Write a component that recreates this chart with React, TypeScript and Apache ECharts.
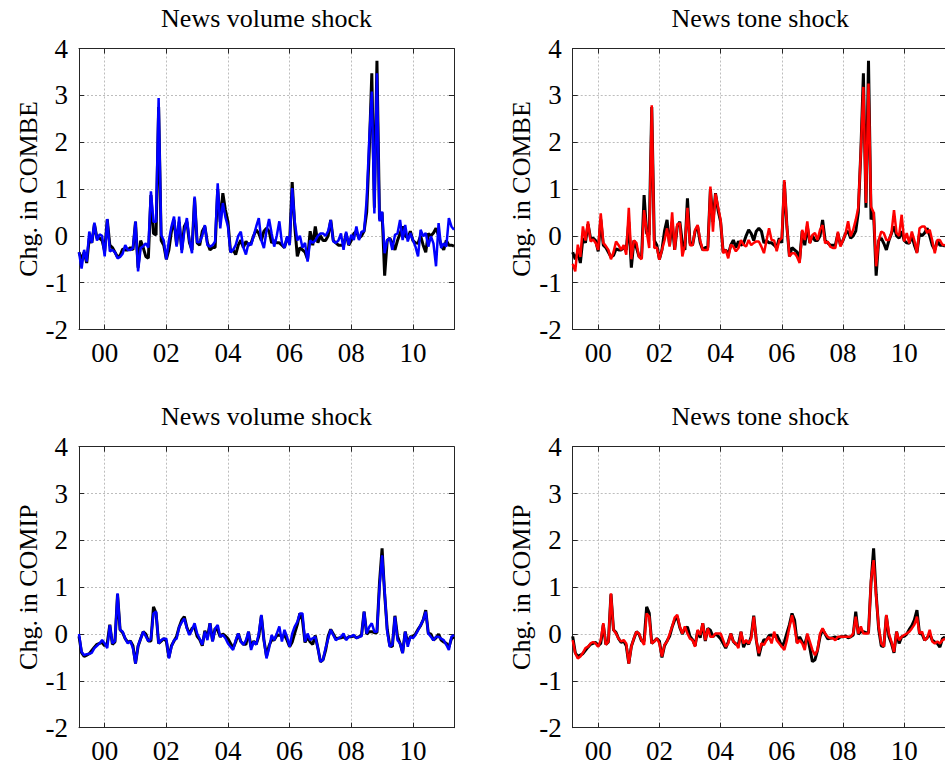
import React, { useEffect, useRef } from "react";
import * as echarts from "echarts";

// Monthly observations, Mar 1999 .. May 2011 (147 months)
const START_YEAR = 1999;
const START_MONTH = 2; // March (0-based)
const N_MONTHS = 147;
const dates: number[] = [];
for (let i = 0; i < N_MONTHS; i++) dates.push(START_YEAR + (START_MONTH + i) / 12);

const yearTicks = [2000, 2002, 2004, 2006, 2008, 2010];
const yTicks = [-2, -1, 0, 1, 2, 3, 4];

const titles = ["News volume shock", "News tone shock", "News volume shock", "News tone shock"];
const yNames = ["Chg. in COMBE", "Chg. in COMBE", "Chg. in COMIP", "Chg. in COMIP"];

// Change in COMBE: total response (black)
const combeTotal = [
  -0.35, -0.5, -0.35, -0.58, -0.05, -0.15, 0.25, -0.05, -0.05, -0.1,
  -0.33, 0.35, -0.2, -0.25, -0.35, -0.45, -0.42, -0.28, -0.3, -0.3,
  -0.25, -0.3, 0.3, -0.68, -0.1, -0.25, -0.44, -0.48, 0.87, 0.05,
  0.02, 2.75, -0.1, -0.2, -0.5, -0.3, 0.1, 0.34, -0.2, 0.3,
  -0.3, 0.2, 0.3, -0.15, -0.3, 0.8, -0.15, -0.2, 0.1, 0.2,
  -0.15, -0.3, -0.25, -0.25, 1.0, 0.3, 0.91, 0.55, 0.3, -0.35,
  -0.3, -0.4, -0.2, -0.09, -0.25, -0.12, -0.2, -0.16, 0.0, 0.13,
  0.05, -0.1, 0.1, 0.16, 0.1, -0.15, -0.1, -0.15, -0.15, -0.2,
  -0.25, -0.05, -0.15, 1.15, 0.2, -0.44, -0.25, -0.3, -0.35, -0.5,
  0.1, -0.2, 0.2, -0.15, 0.0, -0.1, -0.1, 0.0, 0.34, -0.1,
  -0.15, -0.2, -0.2, -0.2, 0.05, -0.2, -0.1, 0.05, 0.1, -0.05,
  0.0, 0.1, 0.5, 1.8, 3.47, 0.6, 3.74, 0.35, 0.5, -0.85,
  -0.1, -0.05, -0.16, -0.3, -0.1, 0.05, 0.2, 0.0, -0.05, 0.1,
  -0.1, -0.15, -0.16, 0.0, -0.2, -0.35, 0.05, 0.0, 0.06, 0.16,
  0.0, -0.2, -0.3, -0.1, -0.2, -0.2, -0.22,
];

// Change in COMBE: news volume shock (blue)
const combeVolume = [
  -0.35, -0.7, -0.3, -0.55, 0.09, -0.15, 0.28, -0.1, 0.03, 0.0,
  -0.44, 0.36, -0.33, -0.3, -0.35, -0.48, -0.45, -0.38, -0.2, -0.3,
  -0.3, -0.26, 0.31, -0.76, -0.26, -0.22, -0.16, -0.25, 0.95, 0.3,
  0.3, 2.94, 0.02, -0.1, -0.5, -0.1, 0.2, 0.41, -0.23, 0.41,
  -0.37, 0.1, 0.38, -0.1, -0.37, 0.84, -0.14, -0.13, 0.0, 0.23,
  -0.2, -0.23, -0.2, -0.12, 1.12, 0.16, 0.7, 0.4, 0.2, -0.35,
  -0.3, -0.2, 0.0, 0.09, -0.25, -0.4, -0.15, -0.2, 0.0, 0.2,
  0.38, -0.1, -0.26, 0.1, 0.36, 0.05, -0.23, 0.0, 0.31, -0.15,
  -0.26, -0.01, -0.2, 1.02, 0.3, -0.1, 0.0, -0.25, -0.15, -0.55,
  -0.1, -0.15, -0.1, 0.0, 0.05, 0.05, 0.0, 0.1, 0.34, -0.12,
  -0.15, -0.1, 0.05, -0.3, 0.09, -0.19, 0.02, -0.09, 0.2, -0.09,
  0.09, 0.1, 0.77, 2.05, 3.08, 0.48, 3.47, 0.31, 0.52, -0.37,
  -0.09, -0.05, -0.3, 0.02, 0.05, 0.34, -0.09, 0.23, -0.12, 0.06,
  -0.09, -0.23, -0.44, 0.13, -0.01, 0.06, -0.23, -0.01, -0.16, -0.65,
  0.27, -0.26, -0.16, -0.23, 0.38, 0.2, 0.13,
];

// Change in COMBE: news tone shock (red)
const combeTone = [
  -0.6, -0.76, -0.19, -0.45, 0.2, -0.1, 0.31, -0.12, -0.08, -0.15,
  -0.3, 0.48, -0.15, -0.22, -0.3, -0.5, -0.35, -0.12, -0.2, -0.3,
  -0.2, -0.4, 0.6, -0.5, -0.1, -0.15, -0.45, -0.5, 0.55, 0.1,
  -0.26, 2.79, -0.26, -0.25, -0.51, -0.3, -0.1, 0.16, -0.23, 0.5,
  -0.3, 0.25, 0.27, -0.44, -0.2, 0.6, -0.2, -0.2, 0.13, 0.23,
  -0.1, -0.3, -0.3, -0.3, 1.05, 0.09, 0.9, 0.62, 0.34, -0.37,
  -0.3, -0.48, -0.19, -0.23, -0.33, -0.26, -0.09, -0.19, -0.23, -0.09,
  -0.2, -0.15, -0.12, -0.12, -0.23, -0.37, -0.1, 0.16, -0.09, -0.1,
  -0.33, -0.1, -0.05, 1.19, 0.2, -0.44, -0.37, -0.37, -0.45, -0.58,
  0.13, -0.09, 0.31, -0.16, 0.02, 0.06, -0.09, 0.13, 0.23, -0.16,
  -0.12, -0.23, -0.26, -0.26, 0.09, -0.23, -0.09, 0.05, 0.31, -0.01,
  0.13, 0.34, 0.6, 1.8, 3.18, 0.7, 3.25, 0.62, 0.5, -0.65,
  -0.09, 0.09, 0.06, -0.09, -0.09, 0.06, 0.55, 0.06, 0.0, 0.45,
  -0.12, 0.06, -0.16, 0.09, -0.1, -0.37, 0.16, 0.2, 0.2, 0.06,
  0.13, -0.1, -0.37, -0.09, -0.09, -0.19, -0.2,
];

// Change in COMIP: total response (black)
const comipTotal = [
  -0.05, -0.4, -0.48, -0.45, -0.42, -0.35, -0.28, -0.22, -0.2, -0.18,
  -0.25, -0.2, 0.2, -0.22, -0.17, 0.85, 0.09, 0.03, -0.1, -0.18,
  -0.15, -0.25, -0.63, -0.26, -0.1, 0.05, 0.0, -0.15, -0.15, 0.58,
  0.45, -0.2, -0.15, -0.1, -0.15, -0.5, -0.25, -0.15, -0.05, 0.15,
  0.3, 0.37, 0.14, 0.0, 0.12, 0.15, -0.05, -0.12, -0.25, 0.07,
  -0.08, 0.23, -0.15, 0.12, 0.08, -0.06, 0.0, -0.04, -0.1, -0.2,
  -0.3, -0.17, 0.01, -0.16, -0.22, -0.22, 0.05, -0.28, -0.15, -0.22,
  -0.05, 0.39, -0.13, -0.47, -0.25, -0.12, -0.13, -0.03, -0.02, -0.05,
  -0.02, -0.13, -0.27, -0.17, 0.02, 0.2, 0.44, 0.3, -0.18, -0.06,
  -0.17, -0.22, -0.03, -0.3, -0.59, -0.55, -0.35, -0.05, 0.1, 0.0,
  -0.1, -0.09, -0.08, -0.06, -0.1, -0.06, -0.06, -0.04, -0.08, -0.06,
  -0.02, 0.48, 0.0, 0.05, 0.05, 0.03, 0.03, 1.1, 1.83, 0.85,
  0.1, -0.25, -0.27, 0.39, -0.05, -0.2, -0.4, 0.05, -0.2, -0.06,
  -0.05, 0.0, 0.1, 0.18, 0.3, 0.51, 0.01, 0.0, -0.13, -0.08,
  0.0, -0.13, -0.17, -0.2, -0.28, -0.1, -0.06,
];

// Change in COMIP: news volume shock (blue)
const comipVolume = [
  0.0, -0.38, -0.45, -0.43, -0.42, -0.4, -0.3, -0.25, -0.2, -0.13,
  -0.2, -0.3, 0.19, -0.2, -0.15, 0.87, 0.09, 0.05, -0.1, -0.2,
  -0.15, -0.3, -0.63, -0.25, -0.1, 0.05, -0.05, -0.15, -0.1, 0.44,
  0.48, -0.2, -0.13, -0.1, -0.1, -0.52, -0.27, -0.13, -0.1, 0.15,
  0.25, 0.33, 0.12, -0.02, 0.09, 0.23, 0.01, -0.1, -0.23, 0.05,
  -0.13, 0.23, -0.16, 0.12, 0.19, -0.06, -0.02, -0.09, -0.2, -0.27,
  -0.34, -0.13, 0.01, -0.16, -0.23, -0.13, 0.05, -0.34, -0.16, -0.23,
  0.01, 0.41, -0.13, -0.52, -0.3, -0.02, -0.13, 0.01, 0.16, -0.16,
  0.09, -0.06, -0.27, 0.01, 0.16, 0.26, 0.44, 0.44, -0.16, 0.01,
  -0.13, -0.09, -0.06, -0.3, -0.59, -0.55, -0.3, -0.1, 0.09, -0.02,
  -0.13, -0.09, -0.06, 0.01, -0.13, -0.06, -0.05, -0.02, -0.09, -0.06,
  -0.05, 0.48, 0.01, 0.15, 0.23, 0.05, 0.05, 1.0, 1.68, 0.9,
  0.05, -0.27, -0.23, 0.37, -0.13, -0.2, -0.41, 0.05, -0.27, -0.06,
  -0.09, -0.02, 0.08, 0.19, 0.3, 0.48, 0.01, -0.06, -0.13, -0.06,
  -0.06, -0.1, -0.13, -0.23, -0.34, -0.06, -0.02,
];

// Change in COMIP: news tone shock (red)
const comipTone = [
  -0.13, -0.41, -0.52, -0.48, -0.4, -0.3, -0.27, -0.2, -0.17, -0.2,
  -0.27, -0.13, 0.23, -0.23, -0.16, 0.87, 0.09, 0.01, -0.1, -0.16,
  -0.13, -0.2, -0.63, -0.27, -0.09, 0.05, 0.01, -0.13, -0.23, 0.44,
  0.37, -0.2, -0.16, -0.09, -0.2, -0.48, -0.23, -0.16, 0.0, 0.16,
  0.35, 0.41, 0.16, 0.01, 0.16, 0.01, -0.1, -0.13, -0.27, 0.09,
  -0.02, 0.23, -0.13, 0.12, -0.06, -0.06, 0.01, 0.01, 0.01, -0.13,
  -0.27, -0.2, 0.01, -0.16, -0.2, -0.3, 0.05, -0.2, -0.13, -0.2,
  -0.1, 0.37, -0.13, -0.41, -0.2, -0.23, -0.13, -0.06, -0.2, 0.05,
  -0.13, -0.2, -0.27, -0.34, -0.13, 0.15, 0.4, 0.15, -0.2, -0.13,
  -0.2, -0.34, 0.01, -0.16, -0.34, -0.45, -0.34, 0.01, 0.12, 0.01,
  -0.06, -0.09, -0.09, -0.13, -0.06, -0.06, -0.06, -0.06, -0.06, -0.06,
  0.01, 0.37, 0.01, 0.16, 0.01, 0.01, 0.01, 1.15, 1.58, 0.8,
  0.16, -0.2, -0.27, 0.41, 0.01, -0.16, -0.38, 0.05, -0.13, -0.06,
  -0.02, 0.01, 0.05, 0.12, 0.2, 0.37, 0.01, 0.05, -0.13, -0.09,
  0.09, -0.16, -0.2, -0.16, -0.2, -0.13, -0.1,
];

const panelTotals = [combeTotal, combeTotal, comipTotal, comipTotal];
const panelShocks = [combeVolume, combeTone, comipVolume, comipTone];
const shockColors = ["#0000ff", "#ff0000", "#0000ff", "#ff0000"];

const FONT = "'Liberation Serif', 'Times New Roman', serif";
const AXIS_COLOR = "#262626";
const GRID_COLOR = "#bdbdbd";

const PANEL_W = 375;
const PANEL_H = 281;
const PANEL_LEFT = [79, 572.7, 79, 572.7];
const PANEL_TOP = [48.5, 48.5, 446.7, 446.7];

function pairs(values: number[]) {
  return values.map((v, i) => [dates[i], v]);
}

export default function App() {
  const ref = useRef<HTMLDivElement>(null);

  useEffect(() => {
    if (!ref.current) return;
    const chart = echarts.init(ref.current, null, { renderer: "svg" });

    const xMin = dates[0];
    const xMax = dates[dates.length - 1];
    const grids: any[] = [];
    const xAxes: any[] = [];
    const yAxes: any[] = [];
    const series: any[] = [];
    const graphics: any[] = [];

    for (let g = 0; g < 4; g++) {
      grids.push({
        left: PANEL_LEFT[g],
        top: PANEL_TOP[g],
        width: PANEL_W,
        height: PANEL_H,
        containLabel: false,
      });
      const lineStyle = { color: AXIS_COLOR, width: 1 };
      xAxes.push({
        type: "value",
        gridIndex: g,
        position: "bottom",
        min: xMin,
        max: xMax,
        axisLine: { show: true, onZero: false, lineStyle },
        axisTick: { show: true, inside: true, length: 5, customValues: yearTicks, lineStyle },
        axisLabel: {
          show: true,
          customValues: yearTicks,
          formatter: (v: number) => String(Math.round(v) % 100).padStart(2, "0"),
          fontSize: 27,
          fontFamily: FONT,
          color: "#000",
          margin: 10,
        },
        splitLine: { show: true, lineStyle: { color: GRID_COLOR, width: 1, type: [2, 2] } },
      });
      xAxes.push({
        type: "value",
        gridIndex: g,
        position: "top",
        min: xMin,
        max: xMax,
        axisLine: { show: true, onZero: false, lineStyle },
        axisTick: { show: true, inside: true, length: 5, customValues: yearTicks, lineStyle },
        axisLabel: { show: false },
        splitLine: { show: false },
      });
      yAxes.push({
        type: "value",
        gridIndex: g,
        position: "left",
        min: yTicks[0],
        max: yTicks[yTicks.length - 1],
        interval: 1,
        axisLine: { show: true, onZero: false, lineStyle },
        axisTick: { show: true, inside: true, length: 5, lineStyle },
        axisLabel: { show: true, fontSize: 27, fontFamily: FONT, color: "#000", margin: 11 },
        splitLine: { show: true, lineStyle: { color: GRID_COLOR, width: 1, type: [2, 2] } },
      });
      yAxes.push({
        type: "value",
        gridIndex: g,
        position: "right",
        min: yTicks[0],
        max: yTicks[yTicks.length - 1],
        interval: 1,
        axisLine: { show: true, onZero: false, lineStyle },
        axisTick: { show: true, inside: true, length: 5, lineStyle },
        axisLabel: { show: false },
        splitLine: { show: false },
      });
      series.push({
        type: "line",
        xAxisIndex: 2 * g,
        yAxisIndex: 2 * g,
        data: pairs(panelTotals[g]),
        showSymbol: false,
        symbol: "none",
        lineStyle: { color: "#000", width: 3 },
        z: 2,
      });
      series.push({
        type: "line",
        xAxisIndex: 2 * g,
        yAxisIndex: 2 * g,
        data: pairs(panelShocks[g]),
        showSymbol: false,
        symbol: "none",
        lineStyle: { color: shockColors[g], width: 2.5 },
        z: 3,
      });
      graphics.push({
        type: "text",
        x: PANEL_LEFT[g] + PANEL_W / 2,
        y: PANEL_TOP[g] - 30,
        style: {
          text: titles[g],
          fontSize: 26,
          fontFamily: FONT,
          fill: "#000",
          align: "center",
          verticalAlign: "middle",
          textAlign: "center",
          textVerticalAlign: "middle",
        },
      });
      graphics.push({
        type: "text",
        x: PANEL_LEFT[g] - 51,
        y: PANEL_TOP[g] + PANEL_H / 2,
        rotation: Math.PI / 2,
        style: {
          text: yNames[g],
          fontSize: 26,
          fontFamily: FONT,
          fill: "#000",
          align: "center",
          verticalAlign: "middle",
          textAlign: "center",
          textVerticalAlign: "middle",
        },
      });
    }

    chart.setOption({
      animation: false,
      backgroundColor: "#fff",
      grid: grids,
      xAxis: xAxes,
      yAxis: yAxes,
      series,
      graphic: graphics,
    });

    return () => chart.dispose();
  }, []);

  return (
    <div
      ref={ref}
      style={{ position: "absolute", left: 0, top: 0, width: 945, height: 769, background: "#fff" }}
    />
  );
}
